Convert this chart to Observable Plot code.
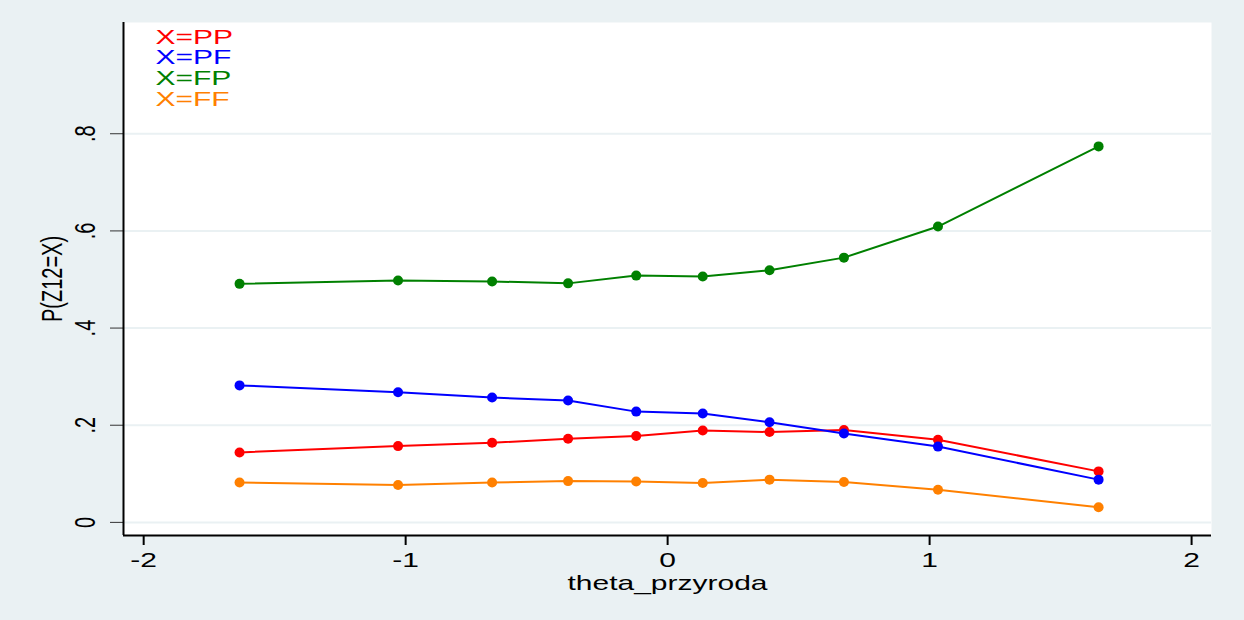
<!DOCTYPE html>
<html>
<head>
<meta charset="utf-8">
<script src="https://cdn.jsdelivr.net/npm/d3@7"></script>
<script src="https://cdn.jsdelivr.net/npm/@observablehq/plot@0.6"></script>
<style>
  html, body { margin: 0; padding: 0; background: #EAF1F3; }
  #chart svg { display: block; }
</style>
</head>
<body>
<div id="chart"></div>
<script>
const theta = [-1.634, -1.029, -0.670, -0.380, -0.120, 0.134, 0.389, 0.673, 1.032, 1.645];
const seriesNames = ["X=PP", "X=PF", "X=FP", "X=FF"];
const seriesColors = ["#FF0000", "#0000FF", "#008000", "#FF8000"];
const valuesPP = [0.144, 0.157, 0.164, 0.172, 0.178, 0.189, 0.186, 0.190, 0.170, 0.105];
const valuesPF = [0.282, 0.268, 0.257, 0.251, 0.228, 0.224, 0.206, 0.183, 0.156, 0.088];
const valuesFP = [0.491, 0.498, 0.496, 0.492, 0.508, 0.506, 0.519, 0.545, 0.609, 0.774];
const valuesFF = [0.082, 0.077, 0.082, 0.085, 0.084, 0.081, 0.088, 0.083, 0.067, 0.031];
const xTicks = [-2, -1, 0, 1, 2];
const yTicks = [0, 0.2, 0.4, 0.6, 0.8];
const yTickLabels = ["0", ".2", ".4", ".6", ".8"];
const xTitle = "theta_przyroda";
const yTitle = "P(Z12=X)";

const allValues = [valuesPP, valuesPF, valuesFP, valuesFF];
const rows = [];
allValues.forEach((vals, s) => vals.forEach((v, i) => rows.push({series: seriesNames[s], x: theta[i], y: v})));

const xDomain = [-2.077, 2.076];
const yDomain = [-0.027, 1.029];
const font = "Arial, 'Liberation Sans', sans-serif";

const legendMarks = seriesNames.map((name, i) => Plot.text([name], {
  frameAnchor: "top-left", text: d => d, fill: seriesColors[i],
  dx: 32, dy: 7 + i * 20.6, fontSize: 20, textAnchor: "start", lineAnchor: "top"
}));

const chart = Plot.plot({
  width: 1244, height: 620,
  marginLeft: 123, marginTop: 22, marginRight: 33, marginBottom: 85,
  style: {fontFamily: font, fontSize: "20px", background: "#EAF1F3", color: "#000"},
  x: {domain: xDomain},
  y: {domain: yDomain},
  color: {domain: seriesNames, range: seriesColors},
  marks: [
    Plot.frame({fill: "white", stroke: null}),
    Plot.gridY(yTicks, {stroke: "#EAF1F3", strokeOpacity: 1, strokeWidth: 2}),
    Plot.axisY({ticks: yTicks, tickFormat: d => yTickLabels[yTicks.indexOf(d)], tickRotate: -90,
      tickSize: 13, tickPadding: 16, stroke: "#333", fontSize: 20,
      label: yTitle, labelAnchor: "center", labelArrow: "none", labelOffset: 83}),
    Plot.axisX({ticks: xTicks, tickFormat: d => d < 0 ? "-" + Math.abs(d) : String(d),
      tickSize: 10, tickPadding: 7, stroke: "#000", strokeWidth: 2, fontSize: 20,
      label: xTitle, labelAnchor: "center", labelArrow: "none", labelOffset: 54}),
    Plot.ruleX([xDomain[0]], {stroke: "#000", strokeWidth: 2}),
    Plot.ruleY([yDomain[0]], {stroke: "#000", strokeWidth: 2}),
    Plot.line(rows, {x: "x", y: "y", z: "series", stroke: "series", strokeWidth: 2}),
    Plot.dot(rows, {x: "x", y: "y", fill: "series", r: 5}),
    ...legendMarks
  ]
});
document.getElementById("chart").appendChild(chart);

// The reference's text is stretched horizontally (wide glyphs); widen every label on screen-x.
const stretch = 1.5;
chart.querySelectorAll("text").forEach(t => {
  const tr = t.getAttribute("transform") || "";
  if (/rotate\(\s*-?90/.test(tr)) t.setAttribute("transform", tr + ` scale(1,${stretch})`);
  else t.setAttribute("transform", tr + ` scale(${stretch},1)`);
});
</script>
</body>
</html>
